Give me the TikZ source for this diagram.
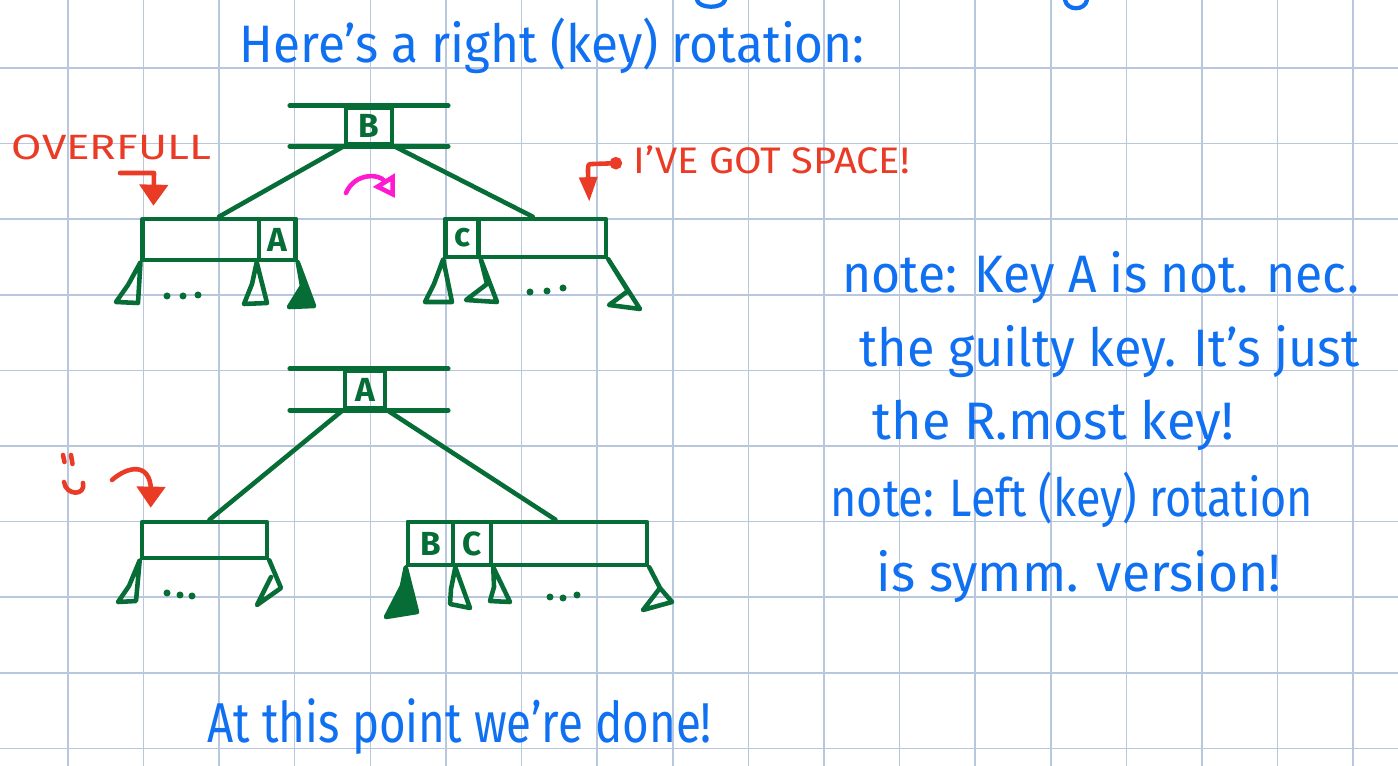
\documentclass[tikz,border=0pt]{standalone}
\usepackage{fontspec}
\setmainfont{Fira Sans}
\usetikzlibrary{arrows.meta,calc,positioning}
\definecolor{gridblue}{HTML}{B9C7DE}
\definecolor{treegreen}{HTML}{066D36}
\definecolor{penblue}{HTML}{1070F2}
\definecolor{penred}{HTML}{EA3B26}
\definecolor{penpink}{HTML}{FF1AD2}

\begin{document}
\begin{tikzpicture}[x=1cm,y=-1cm]

    \tikzset{
      gridline/.style={draw=gridblue, line width=0.45pt},
      tree/.style={draw=treegreen, line width=1.3pt, line cap=round, line join=round},
      treebox/.style={tree, rectangle, inner sep=0pt},
      keycell/.style={treebox, text=treegreen, font=\fontsize{9.5}{9.5}\selectfont\bfseries},
      solid tree/.style={tree, fill=treegreen},
      bluepen/.style={draw=penblue, line width=1.2pt, line cap=round},
      bluetext/.style={text=penblue, inner sep=0pt, anchor=base west, font=\fontsize{15}{15}\selectfont},
      redpen/.style={draw=penred, line width=1.3pt, line cap=round, line join=round},
      redtext/.style={text=penred, inner sep=0pt, anchor=base west, font=\fontsize{10}{10}\selectfont},
      pinkpen/.style={draw=penpink, line width=1.3pt, line cap=round, line join=round},
    }
    \useasboundingbox[fill=white] (0,0) rectangle (13.98,7.66);
    % paper grid
    \foreach \i in {0,...,17}
      \draw[gridline] ({0.679+0.756*\i},0) -- ({0.679+0.756*\i},7.66);
    \foreach \j in {0,...,9}
      \draw[gridline] (0,{0.68+0.756*\j}) -- (13.98,{0.68+0.756*\j});
    % bits of the line above
    \draw[bluepen] (6.97,0) .. controls (6.99,0.09) and (7.23,0.09) .. (7.25,0);
    \draw[bluepen] (10.65,0) .. controls (10.67,0.11) and (10.85,0.11) .. (10.87,0);

    \node[bluetext, xscale=0.94] (title) at (2.39,0.63) {Here's a right (key) rotation:};

    % before the rotation
    \node[keycell, minimum width=0.46cm, minimum height=0.36cm] (keyB) at (3.69,1.26) {B};
    \draw[tree] ($(keyB.north west)+(-0.54,0)$) -- ($(keyB.north east)+(0.54,0)$);
    \draw[tree] ($(keyB.south west)+(-0.54,0)$) -- ($(keyB.south east)+(0.54,0)$);
    \node[treebox, minimum width=1.525cm, minimum height=0.41cm] (ovf) at (2.19,2.395) {};
    \node[keycell, minimum width=0.365cm, minimum height=0.41cm] (cellA) at (2.7725,2.395) {A};
    \node[treebox, minimum width=1.605cm, minimum height=0.38cm] (spc) at (5.2575,2.38) {};
    \node[keycell, minimum width=0.33cm, minimum height=0.38cm] (cellc) at (4.62,2.38) {c};
    \draw[tree] (keyB.south west) -- (ovf.north);
    \draw[tree] (keyB.south east) -- ($(spc.north)+(0.07,0)$);

    \coordinate (t1) at (1.28,2.85);
    \coordinate (t2) at (2.52,2.84);
    \coordinate (t3) at (3.02,2.86);
    \coordinate (t4) at (4.34,2.84);
    \coordinate (t5) at (4.87,2.84);
    \coordinate (t6) at (6.28,2.91);
    \draw[tree] (ovf.south west) -- (t1) -- (1.16,3.02) -- (1.38,3.03) -- cycle;
    \draw[tree] (cellA.south west) -- (t2) -- (2.44,3.04) -- (2.67,3.03) -- cycle;
    \draw[solid tree] (cellA.south east) -- (t3) -- (2.89,3.07) -- (3.14,3.06) -- cycle;
    \draw[tree] (spc.south west) -- (t4) -- (4.25,3.02) -- (4.52,3.02) -- cycle;
    \draw[tree] (cellc.south east) -- (t5) -- (4.66,3.00) -- (4.97,3.02) -- cycle;
    \draw[tree] (spc.south east) -- (t6) -- (6.09,3.05) -- (6.40,3.09) -- cycle;
    \fill[treegreen] (1.67,2.96) circle (0.035) (1.83,2.96) circle (0.035) (1.98,2.95) circle (0.035);
    \fill[treegreen] (5.30,2.92) circle (0.035) (5.47,2.91) circle (0.035) (5.63,2.88) circle (0.035);

    \draw[pinkpen, -{Triangle[open,length=6pt,width=7pt]}] (3.46,1.93) .. controls (3.55,1.72) and (3.80,1.74) .. (3.95,1.98);

    \node[redtext, xscale=1.25] (overfull) at (0.11,1.60) {OVERFULL};
    \coordinate (ovfpen) at (1.20,1.73);
    \draw[redpen, -{Triangle[length=6pt,width=8pt]}] (ovfpen) -- (1.54,1.73) -- ($(ovf.north west)+(0.13,-0.11)$);
    \node[redtext, xscale=1.08, font=\fontsize{10.5}{10.5}\selectfont] (space) at (6.33,1.74) {I'VE GOT SPACE!};
    \coordinate (spcpen) at (6.22,1.63);
    \draw[redpen, {Circle[length=3.5pt]}-{Triangle[length=7pt,width=5pt]}] (spcpen) -- (5.93,1.64) .. controls (5.88,1.64) .. (5.88,1.72) -- ($(spc.north east)+(-0.19,-0.15)$);

    % after the rotation
    \node[keycell, minimum width=0.40cm, minimum height=0.37cm] (keyA) at (3.65,3.895) {A};
    \draw[tree] ($(keyA.north west)+(-0.53,0)$) -- ($(keyA.north east)+(0.61,0)$);
    \draw[tree] ($(keyA.south west)+(-0.53,0)$) -- ($(keyA.south east)+(0.61,0)$);
    \node[treebox, minimum width=1.25cm, minimum height=0.36cm] (bl) at (2.045,5.40) {};
    \node[treebox, minimum width=2.39cm, minimum height=0.43cm] (br) at (5.275,5.435) {};
    \node[keycell, minimum width=0.45cm, minimum height=0.43cm] (cellB) at (4.305,5.435) {B};
    \node[keycell, minimum width=0.38cm, minimum height=0.43cm] (cellC) at (4.72,5.435) {C};
    \draw[tree] (keyA.south west) -- ($(bl.north)+(0.05,0)$);
    \draw[tree] (keyA.south east) -- ($(br.north)+(0.28,0)$);

    \coordinate (s1) at (1.29,5.86);
    \coordinate (s2) at (2.81,5.88);
    \coordinate (s3) at (4.02,5.86);
    \coordinate (s4) at (4.51,5.89);
    \coordinate (s5) at (4.94,5.87);
    \coordinate (s6) at (6.60,5.88);
    \draw[tree] (bl.south west) -- (s1) -- (1.18,6.02) -- (1.36,6.01) -- cycle;
    \draw[tree] (bl.south east) -- (s2) -- (2.57,6.05) -- (2.71,5.77);
    \draw[solid tree] (br.south west) -- (s3) -- (3.86,6.17) -- (4.17,6.12) -- cycle;
    \draw[tree] (cellB.south east) -- (s4) -- (4.50,6.04) -- (4.70,6.08) -- cycle;
    \draw[tree] (cellC.south east) -- (s5) -- (4.90,6.01) -- (5.10,6.02) -- cycle;
    \draw[tree] (br.south east) -- (s6) -- (6.72,6.02) -- (6.43,6.10) -- (6.60,5.88);
    \fill[treegreen] (1.67,5.93) circle (0.035) (1.80,5.95) circle (0.035) (1.92,5.96) circle (0.035);
    \fill[treegreen] (5.50,5.97) circle (0.035) (5.63,5.98) circle (0.035) (5.77,5.95) circle (0.035);

    % smiley
    \draw[redpen] (0.63,4.55) -- (0.645,4.62) (0.71,4.55) -- (0.725,4.64);
    \draw[redpen] (0.64,4.82) .. controls (0.66,4.96) and (0.86,4.96) .. (0.83,4.83);
    \coordinate (blpen) at (1.12,4.80);
    \draw[redpen, -{Triangle[length=6pt,width=8pt]}] (blpen) .. controls (1.28,4.66) and (1.50,4.62) .. (1.51,4.90) -- ($(bl.north west)+(0.11,-0.12)$);

    % notes
    \node[bluetext, xscale=0.945] (noteA) at (8.42,2.93) {note: Key A is not. nec.};
    \node[bluetext, xscale=0.957] (noteB) at (8.59,3.67) {the guilty key. It's just};
    \node[bluetext, xscale=0.99] (noteC) at (8.72,4.40) {the R.most key!};
    \node[bluetext, xscale=0.853] (noteD) at (8.30,5.17) {note: Left (key) rotation};
    \node[bluetext, xscale=0.98] (noteE) at (8.76,5.92) {is symm. version!};

    \node[bluetext, xscale=0.813, font=\fontsize{16}{16}\selectfont] (done) at (2.07,7.42) {At this point we're done!};

\end{tikzpicture}
\end{document}
